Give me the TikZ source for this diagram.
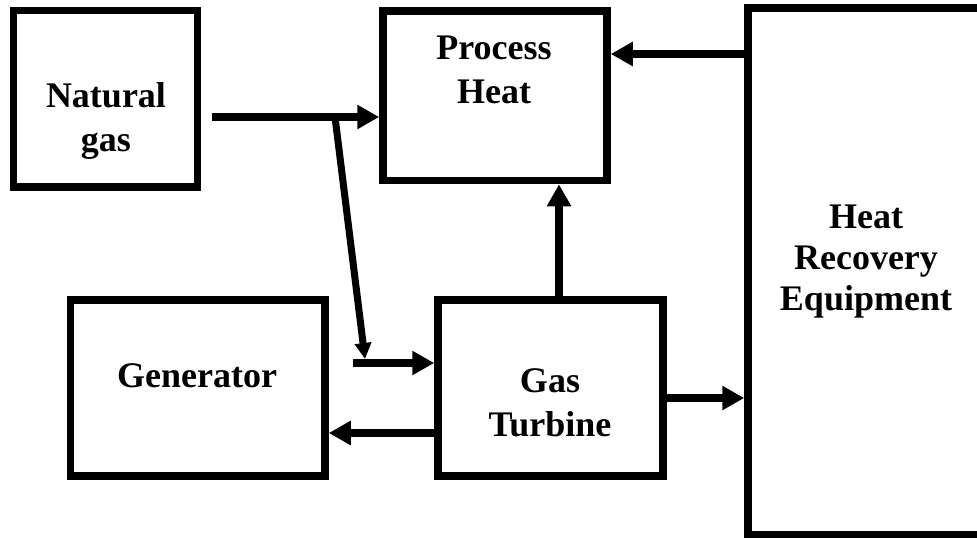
\documentclass[tikz,border=0pt]{standalone}
\usepackage{fontspec}
\setmainfont{Liberation Serif}
\usetikzlibrary{arrows.meta}
\begin{document}
\begin{tikzpicture}[x=1pt,y=-1pt,
  box/.style={draw=black,line width=7.5pt,fill=white,inner sep=0pt},
  lbl/.style={font=\fontsize{36}{44}\selectfont\bfseries,align=center,inner sep=0pt},
  arr/.style={line width=7.5pt,-{Triangle[length=22pt,width=23pt]}},
  arrs/.style={line width=7pt,-{Triangle[length=16pt,width=16pt]}}]
\useasboundingbox[fill=white] (0,0) rectangle (977,538);
\begin{scope}
\clip (0,0) rectangle (977,538);
\node[box,minimum width=184pt,minimum height=176.5pt] (ng) at (105.5,98.75) {};
\node[box,minimum width=224pt,minimum height=169.5pt] (ph) at (495,95.75) {};
\node[box,minimum width=242pt,minimum height=527pt] (hre) at (869,271.5) {};
\node[box,minimum width=254.5pt,minimum height=176pt] (gen) at (197.75,388) {};
\node[box,minimum width=225pt,minimum height=176pt] (gt) at (550.5,388) {};
\end{scope}
\node[lbl] (ngt) at (106,121) {Natural\\gas};
\node[lbl] (pht) at (494,70) {Process\\Heat};
\node[lbl,font=\fontsize{36}{41}\selectfont\bfseries] (hret) at (866,262) {Heat\\Recovery\\Equipment};
\node[lbl] (gent) at (197,376) {Generator};
\node[lbl] (gtt) at (550,403) {Gas\\Turbine};
\coordinate (ngout) at (212,117);
\coordinate (br) at (335,117);
\coordinate (brend) at (365,359);
\coordinate (gtin) at (353,363);
\draw[arr] (ngout) -- (ngout -| ph.west);
\draw[arrs] (br) -- (brend);
\draw[arr] (gtin) -- (gtin -| gt.west);
\draw[arr] (gt.west |- 0,433) -- (gen.east |- 0,433);
\draw[arr] (559,0 |- gt.north) -- (559,0 |- ph.south);
\draw[arr] (gt.east |- 0,398) -- (hre.west |- 0,398);
\draw[arr] (hre.west |- 0,54) -- (ph.east |- 0,54);
\end{tikzpicture}
\end{document}
